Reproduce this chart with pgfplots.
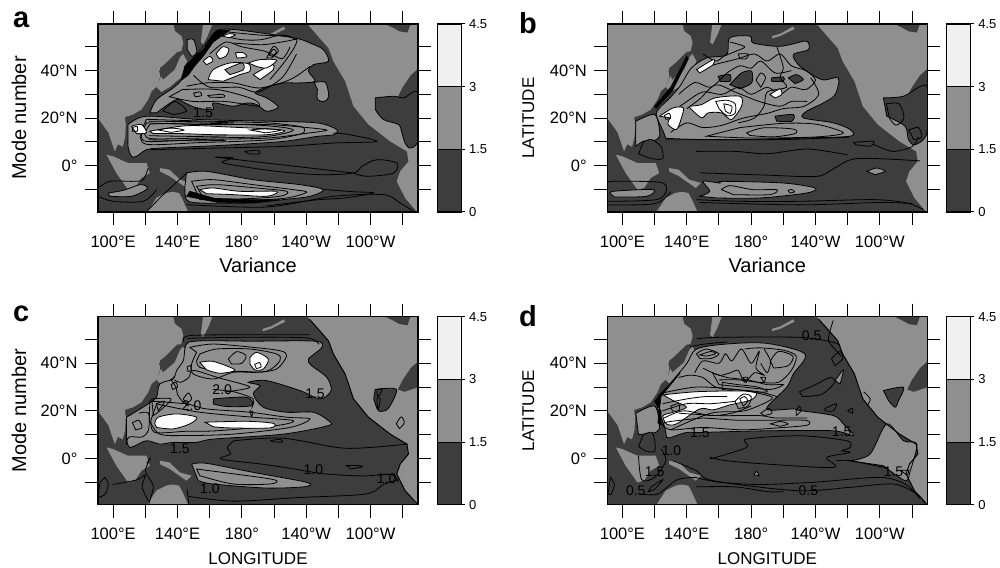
\documentclass[border=0pt]{standalone}
\usepackage{fontspec}
\setmainfont{Liberation Sans}
\usepackage{pgfplots}
\pgfplotsset{compat=1.18}
\definecolor{dk}{gray}{0.24}
\definecolor{md}{gray}{0.56}
\definecolor{lt}{gray}{0.99}
\definecolor{cblt}{gray}{0.94}
\tikzset{lab/.style={font=\fontsize{#1}{#1}\selectfont}}
\newcommand\LND[1]{\addplot[fill=md,draw=none] coordinates {#1};}
\newcommand\DKL[1]{\addplot[fill=dk,draw=none] coordinates {#1};}
\newcommand\M[1]{\addplot[fill=md,draw=black,line width=.8pt,smooth,tension=.5] coordinates {#1} -- cycle;}
\newcommand\D[1]{\addplot[fill=dk,draw=black,line width=.8pt,smooth,tension=.5] coordinates {#1} -- cycle;}
\newcommand\W[1]{\addplot[fill=lt,draw=black,line width=.8pt,smooth,tension=.5] coordinates {#1} -- cycle;}
\newcommand\K[1]{\addplot[fill=black,draw=black,line width=.6pt] coordinates {#1} -- cycle;}
\newcommand\LL[1]{\addplot[draw=black,line width=.8pt,smooth,tension=.5] coordinates {#1};}
\newcommand\OO[1]{\addplot[draw=black,line width=.8pt,smooth,tension=.5] coordinates {#1} -- cycle;}
\newcommand\CL[3]{\node[font=\fontsize{14}{14}\selectfont,text=black] at (axis cs:#1,#2) {#3};}
\newcommand\coast{\addplot[draw=black,line width=1pt] coordinates {(222,58.5)(225.5,55.9)(233.8,49.5)(236.9,43.9)(244.2,35.5)(249.4,25)(258.7,17.3)(272.2,10.2)(282.6,6)(283.6,1.8)(278.4,-2.4)(276.3,-6.6)(281.5,-13.6)(289.5,-19.5)};}
\newcommand\landmass{%
\LND{(90,60)(137.3,60)(138.4,56.6)(142.5,54.5)(143.6,51.6)(142.5,48.4)(139.4,47.4)(134.2,43.9)(129,41.1)(129,37)(127.4,33.4)(123.9,31.3)(121.8,27.8)(117.6,23.6)(112.4,21.5)(107.3,20.4)(107.9,17.3)(107.5,12)(106,8)(103,9)(101,6)(97,14)(90,20.5)}
\LND{(95.9,4.6)(100,3.9)(109.3,1.1)(120.7,1.1)(122.8,-3.1)(117.6,-5.2)(113.5,-9.4)(109.3,-10.1)(102,-3.1)}
\LND{(129,-1)(135,-1.7)(141.5,-5.9)(148.8,-7.3)(145.6,-9.4)(135.3,-4.5)(129,-2.4)}
\LND{(120.7,-20)(127,-13.5)(133,-11.5)(137,-11)(141,-11.5)(143,-14)(147,-20)}
\LND{(156,60)(162,60)(159,55)(156,51)(154.5,52)}
\LND{(193,54.5)(198,55.5)(206,58.5)(207,57.5)(198,54.5)(193,53.5)}
\LND{(143.5,47)(146,44)(142,37)(135,33)(130,31)(127,33)(130,38)(138,43)}
\DKL{(133,43.2)(140.3,48.1)(141.3,45.3)(138.2,40.4)(131,36.2)(128.5,39.7)}
\LND{(220.3,60)(225.5,55.9)(233.8,49.5)(236.9,43.9)(244.2,35.5)(249.4,25)(258.7,17.3)(272.2,10.2)(282.6,6)(283.6,1.8)(278.4,-2.4)(276.3,-6.6)(281.5,-13.6)(289.5,-20)(295,-20)(295,60)}
\DKL{(268,60)(285,60)(283,56)(278,56.5)(274,58)}
\DKL{(290,41)(285,38)(280,33)(277,29)(281,28)(290,30)}
}
\pgfplotsset{mapax/.style={scale only axis,width=320pt,height=188pt,
 xmin=90.6,xmax=289.5,ymin=-19.5,ymax=59.6,
 axis background/.style={fill=dk},axis on top,
 xtick={100,120,140,160,180,200,220,240,260,280},
 xticklabels={100°E,,140°E,,180°,,140°W,,100°W,},
 ytick={-10,0,10,20,30,40,50},
 yticklabels={,0°,,20°N,,40°N,},
 tick align=outside,major tick length=13pt,tick style={black,line width=1pt},
 xtick pos=both,ytick pos=both,xticklabel pos=bottom,yticklabel pos=left,
 axis line style={black,line width=1.1pt},
 tick label style={font=\fontsize{16.5}{16.5}\selectfont},
 xticklabel style={yshift=-7pt},yticklabel style={xshift=-4pt},
 xlabel style={at={(axis description cs:0.5,0)},anchor=center,yshift=-53.5pt},
 ylabel style={at={(axis description cs:0,0.5)},anchor=center,yshift=79pt},
 },
 cbax/.style={scale only axis,width=24pt,height=188pt,xmin=0,xmax=1,ymin=0,ymax=4.5,
 axis on top,xtick=\empty,ytick={0,1.5,3,4.5},yticklabels={0,1.5,3,4.5},
 ytick pos=right,yticklabel pos=right,tick align=outside,major tick length=3pt,
 tick style={black,line width=1pt},axis line style={black,line width=1.1pt},
 tick label style={font=\fontsize{13}{13}\selectfont},yticklabel style={xshift=1pt}}}
\newcommand\cbar{%
\addplot[fill=dk,draw=black,line width=1pt] coordinates {(0,0)(1,0)(1,1.5)(0,1.5)} -- cycle;
\addplot[fill=md,draw=black,line width=1pt] coordinates {(0,1.5)(1,1.5)(1,3)(0,3)} -- cycle;
\addplot[fill=cblt,draw=black,line width=1pt] coordinates {(0,3)(1,3)(1,4.5)(0,4.5)} -- cycle;}
\begin{document}
\begin{tikzpicture}
\useasboundingbox (0,0) rectangle (1000pt,567pt);
%%%%% panel a
\begin{axis}[mapax,at={(98pt,355pt)},anchor=south west,xlabel={Variance},ylabel={Mode number},
 xlabel style={lab=20},ylabel style={lab=20}]
\landmass
\D{(262.9,28.5)(274.3,29.2)(280.5,28.5)(289.5,30.6)(289.5,10.9)(284.6,7.4)(281.5,9.5)(279.5,13.8)(277.4,17.3)(268,19.4)(262.9,23.6)}
\M{(146,53)(150,53)(152,48)(149,46)(146,49)}
\M{(122.8,22.2)(127,27.8)(137.3,32.7)(142.5,36.2)(145.6,41.8)(158.1,51.6)(164.3,56.6)(174.7,57.3)(212,53.8)(222.4,51.6)(230.7,48.8)(233.8,43.9)(224.5,42.5)(221.4,39.7)(225.5,35.5)(215.1,34.8)(205.8,34.8)(195.4,33.1)(188.2,30.6)(195.4,28.5)(202.7,24.7)(195.4,22.9)(189.2,25.7)(183,26.4)(174.7,25)(162.2,26.4)(162.2,23.6)(151.9,24.3)(144.6,26.4)(139.4,27.8)(131.1,24.3)(127,22.2)}
\D{(131,23)(138.4,27)(145.6,23)(137.3,21.5)}
\M{(225,35)(232,35)(234,29)(231,27)(227,28)(227,32)}
\LL{(145.6,33.4)(158,34.8)(174.7,34.8)(191.3,32.7)(210,36.2)(222.4,41.8)}
\LL{(174.7,51.6)(193,50.9)(208,52.4)(214.2,53)(212,49)(205.8,43)(197.5,36.2)}
\LL{(150,38)(160,33)(178,33)(190,31)(205,37)(214,47)}
\LL{(166,55)(180,53)(192,53)(205,55)(214,53)}
\LL{(160,47)(170,52)(180,50)(195,48)(205,45)(210,50)}
\LL{(168,56.5)(190,55)(210,54.5)}
\OO{(195.4,45.3)(199.6,50.2)(202.7,48.1)(198.5,45.3)}
\OO{(197,46.5)(199.5,49)(201.5,47.8)(199,46)}
\OO{(150,30.5)(154,31)(155,29.5)(151,29)}
\OO{(159,29.5)(168,30)(169,28.8)(160,28.8)}
\OO{(143,32)(165,32)(187,28)(190,25)(170,27)(150,27)(135,29)}
\W{(159.1,36.2)(162.2,40.4)(172.6,43.2)(184,42.9)(185,39.7)(178.8,38.3)(168.4,35.5)}
\M{(169.5,40.4)(179.9,43.2)(181,40.4)(172.6,38.3)}
\W{(187.1,38.3)(198.5,42.5)(199.6,40.4)(191.3,36.2)}
\W{(184,43.2)(191.3,44.6)(201.7,44.4)(195.4,41.1)(189,41.8)}
\W{(164,47)(168,50)(172,49)(170,46)(166,45)}
\W{(168,54.5)(172,55.5)(176,55)(172,53.8)}
\W{(176,47.5)(181,47.5)(183,45.8)(177,45.3)}
\W{(156,44)(160,46)(162,44)(158,42.5)}
\K{(142.5,36)(144.6,42)(156,49)(164.3,57)(172.6,57)(162.2,52)(156,46)(150.8,42)(146.6,38)}
\M{(109.3,17.3)(120.7,20.8)(153.9,19.4)(195.4,18.7)(226.6,18)(239,15.2)(236.9,13)(226.6,12.3)(205.8,10.2)(174.7,8.8)(153.9,8.1)(129,7.4)(120.7,6.7)(114.5,3.9)(111.4,3.9)(109.3,8)(109.3,13.7)}
\OO{(120.7,18)(153.9,17.3)(195.4,17.3)(222.4,15.9)(232.8,14.9)(222.4,13.8)(195.4,11.6)(153.9,11)(120.7,10.2)(118,14)}
\OO{(120.7,19.5)(153.9,18.8)(195.4,18)(216,16.5)(219,15)(216,13.2)(195.4,10.8)(153.9,9.7)(120.7,9)(117,14)}
\OO{(123,17.5)(153.9,17.9)(195.4,16.8)(212,15)(195.4,12.3)(153.9,11.6)(123,11.4)(120,14.5)}
\LL{(122,12.6)(150,12.3)(170,12.5)}\LL{(122,18.7)(150,18.5)(175,18)}\LL{(122,10.9)(150,10.5)(170,10.6)}
\W{(122.8,14.5)(145.6,16.8)(170.5,16.3)(205.8,14.9)(195.4,13)(164.3,13)(141.5,13.5)(124.9,13.5)}
\OO{(128,15)(136,15.8)(144,15)(136,14)}\OO{(185,15)(195,15.5)(204,14.9)(195,13.8)}
\W{(111.4,16.6)(117.6,17.3)(120.7,13.8)(114.5,13.5)}
\OO{(112,16)(115,16.5)(115,14.5)(112,14.5)}
\M{(145.6,-3.1)(158.1,-2.4)(187.1,-5.9)(216.2,-8)(230.7,-10.1)(222.4,-12.9)(205.8,-14.3)(185.1,-15.7)(153.9,-15.7)(145.6,-14.3)(144.6,-8.7)}
\OO{(148.8,-6.6)(162.2,-5.9)(187.1,-8)(212,-10.1)(220.3,-11.2)(207.9,-13.6)(183,-14.7)(153.9,-14.3)}
\OO{(151.9,-8.7)(164.3,-8)(189.2,-9.4)(207.9,-10.8)(203.7,-12.9)(178.8,-14)(156,-13.6)}
\W{(153.9,-10.1)(162.2,-9.4)(178.8,-10.8)(201.7,-10.8)(195.4,-12.9)(174.7,-12.2)(158.1,-11.8)}
\K{(145.6,-12.9)(164.3,-15.4)(187.1,-15.7)(203.7,-14.3)(187.1,-14.3)(164.3,-14)(147.7,-10.8)}
\M{(96.9,-11.5)(106.2,-10.4)(116.6,-8)(120.7,-8.7)(120.7,-10.1)(111.4,-12.9)(97.9,-12.9)}
\LL{(122.8,6.7)(164.3,7.4)(205.8,8.1)(236.9,9.5)(263.9,10.2)(247.3,13)(236.9,13.8)}
\OO{(163.3,3.6)(174.7,3.2)(168.5,1.1)(201.7,-2.4)(228.6,-3.8)(249.4,-3.1)(254.6,-0.3)(263.9,2.5)(276.3,1.1)(274.3,-3.1)(257.7,-4.5)(249.4,-3.1)}
\LL{(145.6,-16.4)(195.4,-17.4)(236.9,-12.9)(268,-12.2)(278.4,-15.7)(286.7,-19.2)}
\LL{(90.7,-9.4)(97.9,-6.6)(112.4,-6.6)(118.7,-5.9)(121.8,-1)}
\LL{(90.7,-12.9)(100,-15)(118.7,-15)(127,-10.1)}
\LL{(120.5,-19.5)(133,-11)(146,-3)}
\LL{(230,-10)(250,-11)(262,-11.5)(245,-13.5)(225,-14.5)(195,-17)}
\OO{(182,6)(190,6.5)(191,5)(184,5)}
\CL{156}{22.2}{1.5}
\end{axis}
\begin{axis}[cbax,at={(437.5pt,355pt)},anchor=south west]\cbar\end{axis}
%%%%% panel b
\begin{axis}[mapax,at={(607.3pt,355pt)},anchor=south west,xlabel={Variance},ylabel={LATITUDE},
 xlabel style={lab=20},ylabel style={lab=17}]
\landmass
\M{(108.3,18.7)(120.1,21.5)(123.2,13.8)(121.2,10.9)(112.9,10.2)(108.3,8.1)}
\D{(113,10)(118,11)(124,8)(125,3)(118,3)(110,5)}
\D{(262.2,28.5)(274.7,29.2)(289.2,33.4)(289.2,13.8)(281.9,8.8)(277.8,10.9)(275.7,16.6)(264.3,20.8)}
\M{(127.4,10.9)(125.3,14.5)(121.2,22.2)(129.5,28.5)(135.7,33.4)(142.9,41.1)(152.3,45.3)(164.7,46.7)(166.8,53.8)(179.3,54.5)(181.3,51.6)(195.9,50.2)(204.1,50.9)(214.5,52.4)(215.6,48.8)(206.2,46.7)(210.4,41.8)(223.9,36.2)(234.2,36.9)(232.2,29.9)(224.9,26.4)(214.5,22.9)(212.4,20.1)(231.1,18)(241.5,15.2)(241.5,12.4)(210.4,11.6)(168.9,10.9)}
\D{(166.8,34.1)(174,39)(180.3,39.7)(180.3,34.8)(173,32.3)}
\D{(192.7,36.9)(200,37.3)(200,35.5)(192.7,35.5)}
\D{(203.1,36.9)(208.3,38.3)(212.4,36.2)(207.3,34.5)}
\D{(194.8,20.8)(206.2,21.5)(205.2,18.7)(195.9,18.7)}
\D{(159.5,37.6)(166.8,38.3)(166.8,35.5)(160.6,35.5)}
\LL{(128,21)(140,27)(150,31)(162,30)(172,33)(180,30)(190,33)(198,30)(205,33)(214,32)(220,36)(214,40)(205,42)(198,47)(190,44)(182,47)(172,45)(160,43)(150,41)}
\LL{(130,14)(140,18)(150,16)(162,17)(175,20)(190,22)(200,24)(213,25)(222,30)(217,37)}
\LL{(135,30)(145,35)(155,33)(165,39)(173,42)(180,41)(186,44)(195,39)(205,40)}
\LL{(140,24)(148,28)(158,34)(170,31)(185,27)(198,25)(205,27)(215,27)}
\OO{(183,36)(186,39)(189,37)(186,33)}
\OO{(172,47)(178,47)(177,45)(173,45)}
\LL{(196,50)(198,46)(200,41)(198,37)(202,33)(190,31)(188,25)(182,20)(172,18)}
\LL{(150,47)(158,44)(163,46)(170,48)(176,50)(167,52)}
\W{(141.9,25)(149.2,25.7)(157.5,28.5)(173,29.2)(174,25)(167.8,19.4)(161.6,22.2)(153.3,22.2)(149.2,20.1)(141.9,24.3)}
\OO{(158,27)(165,27.5)(170,26)(170,22)(165,21)(160,24)}
\OO{(163,26)(168,25)(167,22)(164,23)}
\W{(123.2,20.8)(131.5,24.3)(137.8,24.3)(136.7,20.1)(133.6,15.2)(128.4,17.3)(129.5,20.1)}
\OO{(126,21)(129,22)(130,20)(127,19.5)}
\W{(146.1,40.4)(156.4,44.6)(156.4,42.5)(148.1,39)}
\W{(191.7,29.9)(197.9,32.3)(199,29.9)(194.8,28.5)}
\OO{(177.2,13.8)(187.6,15.9)(206.2,15.4)(207.3,13.5)(193.7,12.1)(179.3,12.7)}
\OO{(173,16)(200,17.8)(220.7,17.4)(237.3,13.8)(220.7,12.1)(181.3,11.6)(152.3,12.4)}
\LL{(127.4,11.5)(150,11)(200,11)(241,12)}
\K{(120,25)(130,33)(140,46)(141,45)(131,31.5)(121,24)}
\M{(148.1,-12.9)(154.3,-10.8)(150.2,-6.6)(160.6,-7.3)(162.7,-6.6)(200,-7.3)(219.7,-9.4)(214.5,-11.5)(185.5,-13.6)(158.5,-13.6)}
\OO{(161.6,-10.1)(166.8,-8.4)(181.3,-10.1)(195.9,-10.1)(191.7,-12.2)(168.9,-12.2)}
\OO{(203,-10.5)(205,-10)(207,-11)(204,-11.5)}
\M{(251.9,-2.4)(258.1,-1)(263.3,-2.4)(257.1,-3.8)}
\M{(93.2,-12.2)(94.2,-10.8)(119.1,-10.1)(115,-12.9)(95.2,-13.2)}
\LL{(90.4,-7.6)(94.2,-6.6)(123.2,-7)(127.4,-10.1)(121.2,-14.3)(90.4,-15)}
\LL{(90.4,-16.5)(120,-16)(130,-11)}
\LL{(146,-14.3)(173,-15)(210.4,-15)(256,-14.3)(276.8,-15.7)(287.1,-18.5)}
\LL{(148,-3)(190,-4)(221,-4.5)(232,-1)(246,3)(285,2)}
\LL{(146,6)(170,6)(190,5)(215,7)(240,4.5)}
\LL{(148,-15.5)(210,-16.5)(260,-15.5)(280,-16)}
\OO{(243.5,9.8)(256,10.2)(254,8.2)(245,8.8)}
\LL{(256,9)(268,6)(280,8)(284,12)}
\OO{(264,26)(272,26)(275,20)(270,17)(266,20)}
\OO{(278,15)(284,16)(286,12)(281,11)}
\end{axis}
\begin{axis}[cbax,at={(946.8pt,355pt)},anchor=south west]\cbar\end{axis}
%%%%% panel c
\begin{axis}[mapax,at={(98pt,62.3pt)},anchor=south west,xlabel={LONGITUDE},ylabel={Mode number},
 xlabel style={lab=17},ylabel style={lab=20}]
\landmass
\D{(262.9,29)(276,29)(271,21)(265,20)(262,25)}
\M{(108.3,8.8)(110.4,4.6)(120.7,7.4)(129,6)(137.3,6.7)(151.9,6.7)(162.2,8.1)(205.8,10.2)(233.8,13.8)(233.8,15.9)(224.5,19.4)(207.9,19.4)(193.4,21.5)(187.1,27.1)(191.3,30.6)(184,32)(195.4,32.7)(216.2,28.5)(228.6,25)(235.5,28.5)(232.8,34.1)(223.4,39)(221.4,41.8)(229.7,46.7)(225.5,49.3)(185.1,49.3)(158.1,49.5)(146.7,48.8)(144.6,46)(143.6,41.1)(139.4,36.9)(137.3,33.4)(129,31.3)(127,25.7)(121.8,22.9)(108.3,17.3)}
\D{(162.2,25)(183,25.7)(186.1,22.2)(170.5,21.8)(162.2,22.9)}
\OO{(147.7,46.7)(162.2,48.1)(187.1,46.7)(203.7,45.3)(207.9,43.2)(201.7,37.6)(189.2,36.2)(174.7,36.2)(162.2,33.4)(149.8,35.5)(148.8,39.7)(151.9,44.6)}
\OO{(153.9,43.9)(164.3,46)(185.1,46)(201.7,43.9)(203.7,41.1)(195.4,36.6)(178.8,36.6)(166.4,36.6)(153.9,38.3)(151.9,41.1)}
\OO{(171.6,41.8)(176.8,44.9)(182.6,43.2)(179.9,40)(173.6,39.7)}
\W{(153.9,40.4)(162.2,40.8)(175.7,37.2)(166.4,35.8)(158.1,37.2)}
\W{(185.1,42.5)(189.2,44.6)(196.5,41.8)(193.4,37.6)(188.2,37.2)(185.1,39.7)}
\OO{(188,39.5)(191,40.3)(192,38.5)(189,37.8)}
\OO{(146,38.5)(148,39)(148.5,37)(146.5,36.5)}
\LL{(146,50.5)(165,50.8)(200,51)(222,50.5)(228,48)}
\LL{(144,49)(146,51.5)(170,52)(222,52)}
\LL{(138,33)(142,32)(147,34)(150,37)(165,34)(185,30)(170,28)}
\OO{(122.8,24.1)(145.6,22.9)(158.1,20.8)(185.1,19.4)(207.9,17.3)(222.4,16.6)(209.9,13)(174.7,10.2)(145.6,9.6)(129,10.2)(122.5,16)}
\OO{(127,22.9)(153.9,19.4)(187.1,17.3)(212,15.9)(201.7,13.8)(164.3,11.6)(145.6,11.4)(125.9,10.9)(123.5,16)}
\W{(125.9,14.5)(128,17.3)(139.4,18.7)(151.9,17.3)(147.7,14.5)(137.3,12.4)(127,13)}
\W{(157.1,15.2)(183,15.6)(199.6,14.7)(197.5,12.8)(172.6,12.8)(162.2,13.3)}
\OO{(124,25)(136,25)(129,20)(125,18)}\OO{(127,23)(132,24)(128,20)}
\OO{(112,15)(116,16)(118,13)(114,12)}
\LL{(116,19)(122,19)(122,12)(118,9)(110,9)(108,6)}
\OO{(143.6,25)(146.7,27.5)(148.8,25)(145.6,23)}
\LL{(136,33)(139,30)(140,27)(143,24)(147,22)}
\LL{(162,29)(175,28)(187,25)(186,21)}
\OO{(136,31)(139,32)(140,30)(137,29)}
\M{(148.8,-2.4)(158.1,-2.1)(187.1,-5.9)(220.3,-10.1)(219.2,-11.9)(195.4,-12.5)(162.2,-10.8)(152.9,-9.4)}
\OO{(151.9,-4.5)(191.3,-8)(201.7,-9.4)(197.5,-10.8)(174.7,-10.8)(153.9,-7.3)}
\LL{(175,7.4)(171,4.6)(173,1.8)(167,-0.3)(192,-2.4)(213,-4.5)(231,-6.5)(255,-7.4)(273,-6.8)(277,-10)}
\LL{(175,7.4)(205,8.5)(240,4.5)(258,4.5)(283,6)}
\LL{(147,-16)(175,-18)(215,-16.5)(257,-15)(268,-11)(277,-9)}
\LL{(146,-13)(147,-19.5)}
\OO{(198,7.5)(204,8)(205,6.8)(199,7)}
\OO{(245,-3)(252,-3)(255,-3.5)(248,-4.5)}
\LL{(122,-19.5)(125,-12)(122,-8)(120,-5)(123,0)(121,-2)}
\OO{(95,-8)(97,-11)(95,-15)(91,-16)(92,-10)}
\LL{(100,-11)(115,-9)(120,-7)(118,-12)(122,-18)}
\OO{(264,29)(267,29)(265,26)(264,27)}\OO{(264,25.5)(266,25)(265,21)(264,23)}
\OO{(276,14.5)(279,17.5)(281,15)(278,12.5)}
\OO{(185,20)(187,19.5)(186,17.5)}
\coast
\CL{167.8}{28.8}{2.0}\CL{148.8}{22}{2.0}\CL{225.5}{27}{1.5}\CL{141.5}{3.9}{1.5}\CL{224.5}{-4.8}{1.0}\CL{270}{-8.7}{1.0}\CL{160.2}{-12.9}{1.0}
\end{axis}
\begin{axis}[cbax,at={(437.5pt,62.3pt)},anchor=south west]\cbar\end{axis}
%%%%% panel d
\begin{axis}[mapax,at={(607.3pt,62.3pt)},anchor=south west,xlabel={LONGITUDE},ylabel={LATITUDE},
 xlabel style={lab=17},ylabel style={lab=17}]
\landmass
\D{(262.2,28.5)(274.7,29.9)(271.6,24.3)(269.5,21.5)(265.4,24.3)}
\M{(108.3,19)(120,22)(123,14)(121,11)(110,10)}
\D{(113,10)(118,11)(120,8)(120,3)(115,3)(110,5)}
\M{(241.5,-1)(253.9,1.8)(264.3,14.5)(274.7,7.4)(283,6)(278.9,-5.2)(275.8,-9.4)(262.2,-3.1)}
\M{(232.2,32.7)(237.3,37.2)(235.3,31.3)}
\M{(181.7,-6.9)(183.4,-5.5)(185,-7.3)}
\M{(127.4,8.8)(126.3,13)(121.2,24.3)(129.5,31.3)(139.8,39.7)(146.1,46)(164.7,48.1)(189.6,48.4)(213.5,43.9)(206.2,35.5)(202.1,29.9)(189.6,20.8)(206.2,20.8)(210.4,20.1)(231.1,18)(237.3,14.5)(243.6,9.5)(231.1,11.6)(189.6,11.6)(148.1,10.9)(139.8,10.9)(129.5,8.6)}
\OO{(146,44)(152,46)(160,44)(155,42)(148,42)}\OO{(148,43.5)(155,45)(158,44)(152,43)}
\LL{(145,36)(150,41)(160,40)(164,44)(168,41)(174,46)(180,40)(185,45)(183,38)(188,35)(182,36)(176,32)(172,37)(167,36)(160,35)(150,38)}
\OO{(192,41)(197,45)(206,43)(203,39)(194,38)}
\LL{(188,46)(192,41)(190,36)(186,40)}
\LL{(176,46)(185,46.5)(200,45.5)(208,43)(205,37)(197,32)(185,32)(172,33)(160,33)}
\OO{(156,36)(165,34)(178,33)(190,31)(200,31)(192,29)(175,30)(160,31)}
\OO{(162,32)(172,31)(184,30)(190,28)(175,28)(162,29)}
\LL{(135,34)(142,35)(150,34)(158,30)(170,29)(185,28)(196,26)}
\OO{(175,34)(178,34)(177,32)}\OO{(186,34)(189,34)(188,32)}
\W{(125.3,26.7)(148.1,28.1)(181.3,28.1)(180.3,24.7)(166.8,22.5)(156.4,20.4)(148.1,20.8)(133.6,14.5)(127.4,14.5)(125.3,18)(131.5,19.4)(139.8,21.5)(131.5,24.3)}
\OO{(170,24)(175,27)(180,26)(178,22)(172,21)}
\OO{(173,25)(176,26)(178,24)(175,22)}
\LL{(125,27.5)(146,30)(170,29)(187,27)(193,25)(176,20)(155,19)(130,12)}
\LL{(125,23)(140,25)(152,26)(165,26)}\LL{(125,20)(140,23)(155,23)(170,24)}
\LL{(126,17)(138,20)(155,18)(168,19)(180,22)}
\OO{(130,22)(135,23)(135,20)(131,20)}
\OO{(186,19)(191,21)(193,19)(188,18)}
\OO{(172,16)(190,16)(214,16)(215,14)(200,13)(175,12)(150,13)(130,12)(126,15)(150,17)}
\OO{(192,14.5)(198,15.5)(203,14.5)(198,13.5)}
\LL{(135,19)(160,18)(185,18)(195,17)(215,17)}
\K{(120,24)(125,28)(132,33)(136,36)(130,31)(124,26)(122,15)(124,14)(124,20)}
\LL{(154.4,-0.3)(177.2,4.6)(177.2,8.1)(210.4,9.5)(239.4,7.4)(241.5,4.6)(236.3,3.2)(241.5,2.5)(227,0.4)(231.1,-3.8)(189.6,-2.4)(164.7,-1)(154.4,0.4)}
\LL{(131.5,-1)(146.1,-5.2)(156.4,-9.4)(208.3,-13.6)(241.5,-12.2)(268.5,-10.8)(283,-15)(288,-19)}
\LL{(146,-12)(170,-12)(190,-14)(200,-14)}
\LL{(145,-8)(160,-10)(185,-11)(220,-10)(260,-8)(276,-11)(285,-17)}
\LL{(146.1,50.2)(158.5,50.9)(210.4,50.9)(231.1,48.8)(235.3,47.4)}
\LL{(142,47)(150,48)(165,49)}
\LL{(231,58)(228,50)(232,46)(236,43)}
\OO{(210,28)(220,31)(229,34)(232,32)(224,27)(212,26)}
\OO{(232,39)(237,42)(235,45)(230,42)}
\LL{(264,-4)(241.5,-1)(233,-1)}
\OO{(208,20)(210,22)(211,20)(208,18)}
\OO{(226,21)(233,23)(231,20)(226,20)}
\LL{(250,28)(254,25)(252,22)}\OO{(240,20)(243,21)(243,19)}
\OO{(92.5,-8)(95,-11)(93,-15)(91,-15)}
\OO{(118,-12)(125,-9)(120,-13)(116,-14)}
\LL{(111,-15)(122,-15)(134,-9)(146,-8)}
\LL{(110,1)(112,-9)(120,-8)(127,-1)(124,4)}
\OO{(273,-5)(277,-7)(278,-5)}
\coast
\CL{217.6}{51.6}{0.5}\CL{148.1}{10.9}{1.5}\CL{236.3}{11.4}{1.5}\CL{130.5}{3.2}{1.0}\CL{268.5}{-5.5}{1.5}\CL{215.6}{-13.6}{0.5}\CL{108.3}{-13.6}{0.5}\CL{120}{-5.5}{1.5}
\end{axis}
\begin{axis}[cbax,at={(946.8pt,62.3pt)},anchor=south west]\cbar\end{axis}
%%%%% panel letters
\node[font=\fontsize{29}{29}\selectfont\bfseries,anchor=base west] at (9.5pt,539.5pt) {a};
\node[font=\fontsize{29}{29}\selectfont\bfseries,anchor=base west] at (515.5pt,533pt) {b};
\node[font=\fontsize{29}{29}\selectfont\bfseries,anchor=base west] at (9.5pt,245pt) {c};
\node[font=\fontsize{29}{29}\selectfont\bfseries,anchor=base west] at (515.5pt,240pt) {d};
\end{tikzpicture}
\end{document}
